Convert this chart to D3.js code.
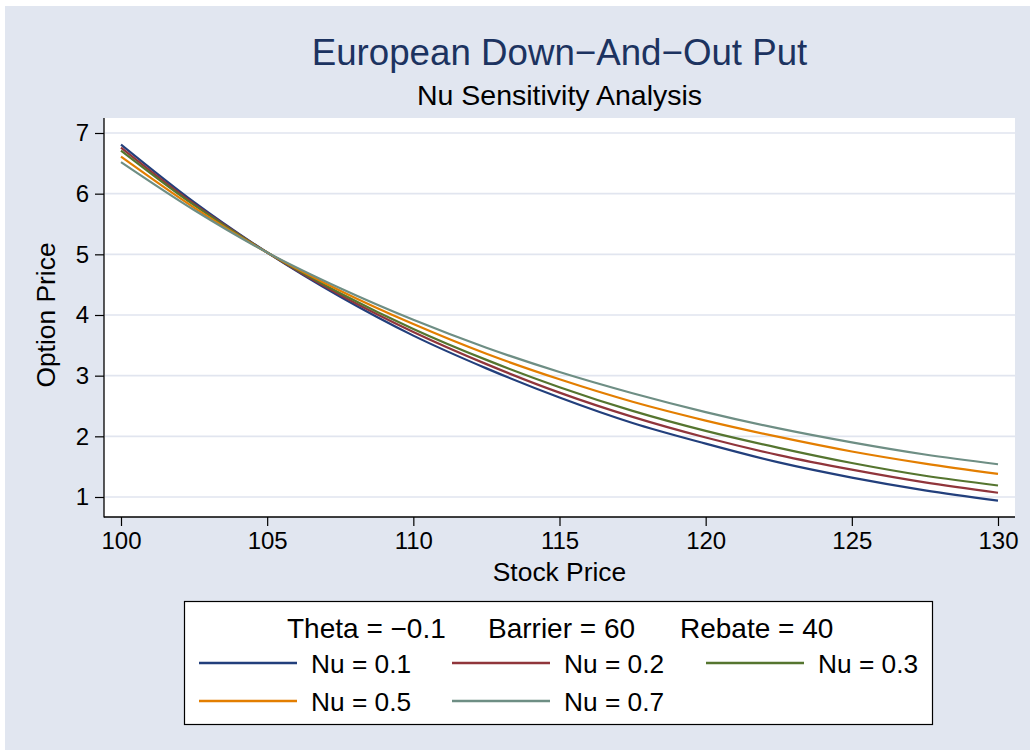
<!DOCTYPE html>
<html>
<head>
<meta charset="utf-8">
<script src="https://cdn.jsdelivr.net/npm/d3@7"></script>
<style>
  html, body { margin: 0; padding: 0; background: #ffffff; }
  svg { display: block; font-family: "Liberation Sans", Arial, Helvetica, sans-serif; }
</style>
</head>
<body>
<svg id="chart" width="1035" height="756"></svg>
<script>
// ---- data ----
const stockPrice = [100, 102.5, 105, 107.5, 110, 112.5, 115, 117.5, 120, 122.5, 125, 127.5, 130];
const nu01 = [6.81, 5.86, 5.03, 4.30, 3.66, 3.12, 2.64, 2.22, 1.88, 1.57, 1.32, 1.11, 0.94];
const nu02 = [6.76, 5.83, 5.03, 4.33, 3.72, 3.19, 2.72, 2.32, 1.98, 1.69, 1.45, 1.24, 1.07];
const nu03 = [6.71, 5.81, 5.03, 4.36, 3.77, 3.26, 2.81, 2.42, 2.09, 1.81, 1.56, 1.35, 1.19];
const nu05 = [6.61, 5.77, 5.03, 4.40, 3.85, 3.36, 2.94, 2.57, 2.26, 1.99, 1.75, 1.55, 1.38];
const nu07 = [6.52, 5.73, 5.03, 4.44, 3.92, 3.46, 3.06, 2.71, 2.40, 2.13, 1.90, 1.70, 1.54];
const seriesNames = ["Nu = 0.1", "Nu = 0.2", "Nu = 0.3", "Nu = 0.5", "Nu = 0.7"];
const xTicks = [100, 105, 110, 115, 120, 125, 130];
const yTicks = [1, 2, 3, 4, 5, 6, 7];
const titleText = "European Down\u2212And\u2212Out Put";
const subtitleText = "Nu Sensitivity Analysis";
const xTitle = "Stock Price";
const yTitle = "Option Price";
const legendTitleParts = ["Theta = \u22120.1", "Barrier = 60", "Rebate = 40"];

// ---- styling ----
const colors = ["#223f7c", "#90353b", "#55752f", "#e37e00", "#6e8e84"];
const bg = "#e1e6f0";
const grid = "#e1e5ef";

const svg = d3.select("#chart");

// outer graph region
svg.append("rect").attr("x", 5).attr("y", 6).attr("width", 1025).attr("height", 744).attr("fill", bg);

// plot region
const plot = { left: 104, right: 1015, top: 118, bottom: 517 };
svg.append("rect")
  .attr("x", plot.left).attr("y", plot.top)
  .attr("width", plot.right - plot.left).attr("height", plot.bottom - plot.top)
  .attr("fill", "#ffffff");

const x = d3.scaleLinear().domain([100, 130]).range([121, 998]);
const y = d3.scaleLinear().domain([1, 7]).range([497, 133]);

// gridlines
svg.append("g").selectAll("line").data(yTicks).join("line")
  .attr("x1", plot.left + 1).attr("x2", plot.right)
  .attr("y1", d => y(d)).attr("y2", d => y(d))
  .attr("stroke", grid).attr("stroke-width", 1.6);

// series
const allSeries = [nu01, nu02, nu03, nu05, nu07];
const line = d3.line()
  .x((d, i) => x(stockPrice[i]))
  .y(d => y(d))
  .curve(d3.curveMonotoneX);
svg.append("g").selectAll("path").data(allSeries).join("path")
  .attr("d", d => line(d))
  .attr("fill", "none")
  .attr("stroke", (d, i) => colors[i])
  .attr("stroke-width", 2.2);

// axes
const yAxis = d3.axisLeft(y).tickValues(yTicks).tickFormat(d3.format("d")).tickSize(9).tickPadding(6).tickSizeOuter(0);
const gy = svg.append("g").attr("transform", `translate(${plot.left},0)`).call(yAxis);
gy.select(".domain").remove();
gy.selectAll(".tick line").attr("stroke", "#000").attr("stroke-width", 1.2);
gy.selectAll(".tick text").attr("font-size", 24).attr("fill", "#000").attr("font-family", null);

const xAxis = d3.axisBottom(x).tickValues(xTicks).tickFormat(d3.format("d")).tickSize(9).tickPadding(6).tickSizeOuter(0);
const gx = svg.append("g").attr("transform", `translate(0,${plot.bottom})`).call(xAxis);
gx.select(".domain").remove();
gx.selectAll(".tick line").attr("stroke", "#000").attr("stroke-width", 1.2);
gx.selectAll(".tick text").attr("font-size", 24).attr("fill", "#000").attr("font-family", null);

svg.append("line").attr("x1", plot.left).attr("x2", plot.left).attr("y1", plot.top).attr("y2", plot.bottom + 0.5)
  .attr("stroke", "#000").attr("stroke-width", 1.3);
svg.append("line").attr("x1", plot.left).attr("x2", plot.right).attr("y1", plot.bottom).attr("y2", plot.bottom)
  .attr("stroke", "#000").attr("stroke-width", 1.3);

// titles
const cx = (plot.left + plot.right) / 2;
svg.append("text").attr("x", cx).attr("y", 65).attr("text-anchor", "middle")
  .attr("font-size", 36.7).attr("fill", "#1c3360").text(titleText);
svg.append("text").attr("x", cx).attr("y", 105).attr("text-anchor", "middle")
  .attr("font-size", 28.5).attr("fill", "#000").text(subtitleText);
svg.append("text").attr("x", cx).attr("y", 581).attr("text-anchor", "middle")
  .attr("font-size", 26.4).attr("fill", "#000").text(xTitle);
svg.append("text").attr("transform", "translate(55,315) rotate(-90)").attr("text-anchor", "middle")
  .attr("font-size", 26.4).attr("fill", "#000").text(yTitle);

// legend
const leg = svg.append("g");
leg.append("rect").attr("x", 184.5).attr("y", 601.5).attr("width", 748).attr("height", 123)
  .attr("fill", "#fff").attr("stroke", "#000").attr("stroke-width", 1.2);
const legTitleX = [287, 488, 680];
leg.selectAll("text.lt").data(legendTitleParts).join("text").attr("class", "lt")
  .attr("x", (d, i) => legTitleX[i]).attr("y", 638)
  .attr("font-size", 28).attr("fill", "#000").text(d => d);
const colX = [199, 452, 706];
const rowY = [663, 701];
const items = leg.selectAll("g.item").data(seriesNames).join("g").attr("class", "item")
  .attr("transform", (d, i) => `translate(${colX[i % 3]},${rowY[Math.floor(i / 3)]})`);
items.append("line").attr("x1", 0).attr("x2", 98).attr("y1", 0).attr("y2", 0)
  .attr("stroke", (d, i) => colors[i]).attr("stroke-width", 2.4);
items.append("text").attr("x", 112).attr("y", 9.5).attr("font-size", 26.3).attr("fill", "#000").text(d => d);
</script>
</body>
</html>
